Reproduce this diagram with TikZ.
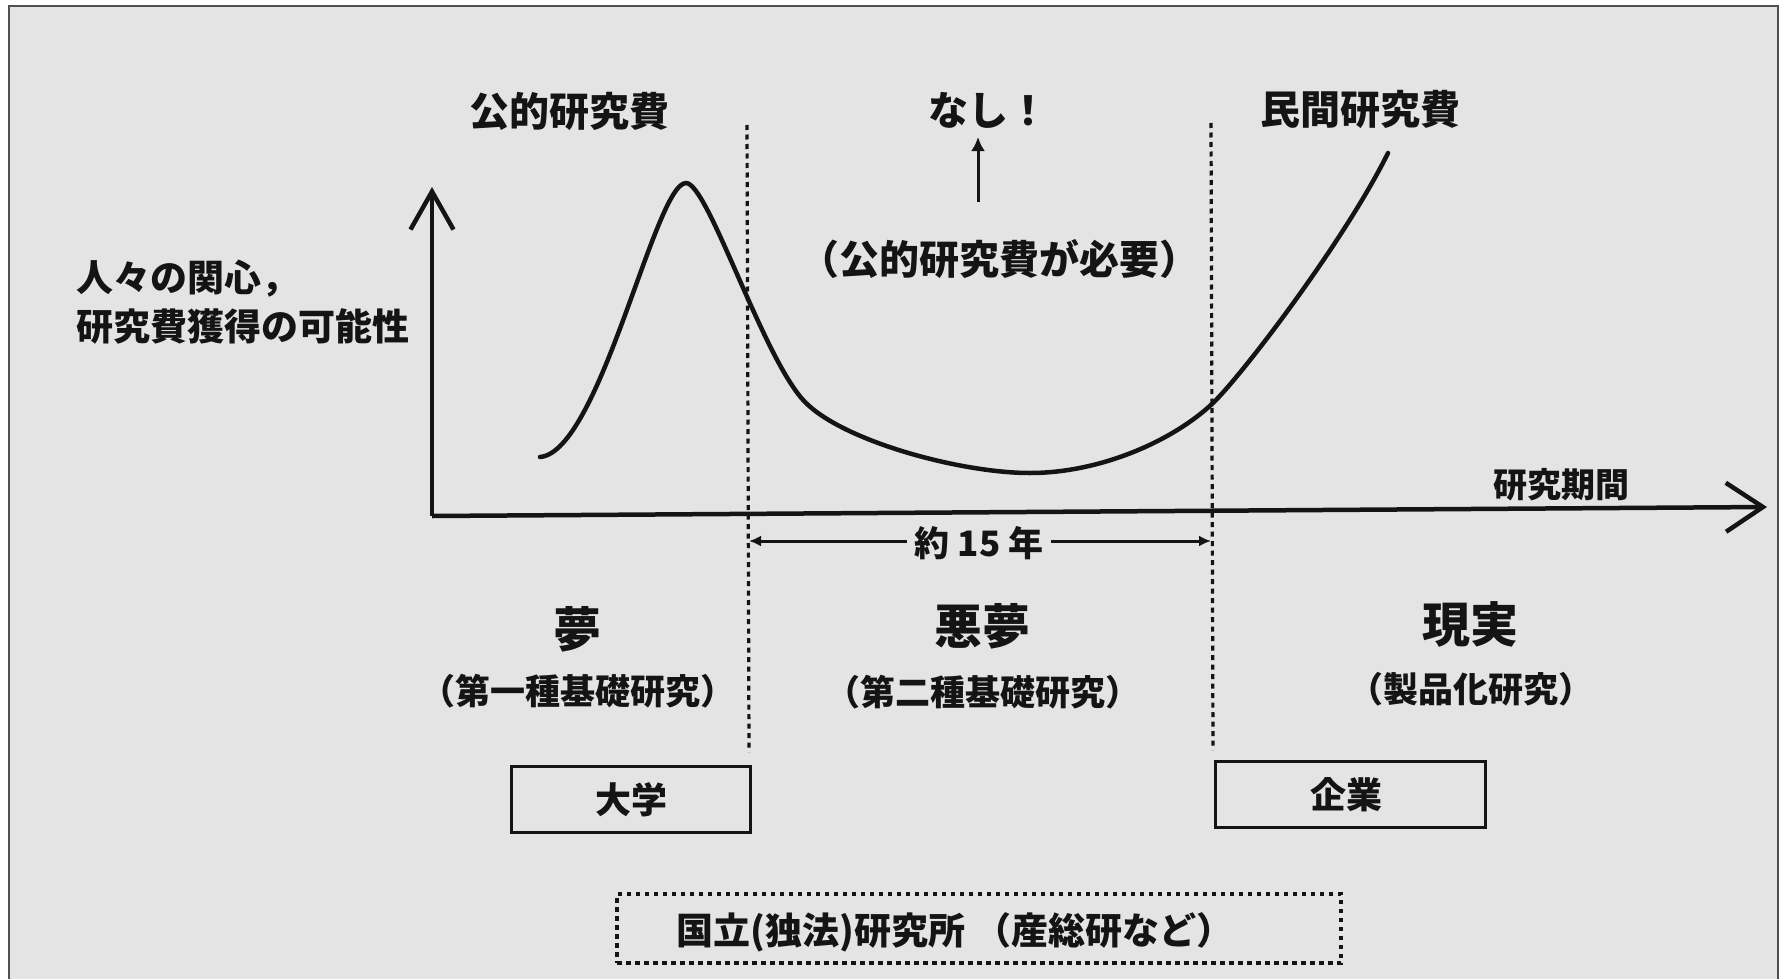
\documentclass[tikz,border=0pt]{standalone}
\usepackage{fontspec}
\setmainfont{Noto Sans CJK JP}
\usetikzlibrary{arrows.meta}
\definecolor{bg}{HTML}{E4E4E4}
\definecolor{ink}{HTML}{141414}
\definecolor{framec}{HTML}{505050}
\tikzset{
  txt/.style={inner sep=0pt, text=ink, font=\bfseries\fontsize{#1}{#1}\selectfont},
  axisline/.style={draw=ink, line width=4.5pt},
  curveline/.style={draw=ink, line width=4.5pt, line cap=round, line join=round},
  sepline/.style={draw=ink, line width=3.2pt, dash pattern=on 5pt off 4.5pt},
  thinarrow/.style={draw=ink, line width=3pt},
  boxnode/.style={draw=ink, line width=3pt, inner sep=0pt},
  dotboxnode/.style={draw=ink, line width=4.5pt, dash pattern=on 4.5pt off 4.5pt, inner sep=0pt}
}
\begin{document}
\begin{tikzpicture}[x=1pt, y=-1pt]
\useasboundingbox (0,0) rectangle (1779,979);
% background and frame
\fill[white] (0,0) rectangle (1779,979);
\fill[bg] (8,6) rectangle (1779,979);
\draw[framec, line width=2pt] (8.5,979) -- (8.5,6.5) -- (1778,6.5) -- (1778,979);

% axes
\coordinate (O) at (432,516);
\coordinate (ytip) at (432,187);
\coordinate (xtip) at (1767,507);
\draw[axisline, -{Straight Barb[length=38pt, width=43pt, line width=4.5pt]}] (O) -- (ytip);
\draw[axisline, -{Straight Barb[length=37pt, width=49pt, line width=4.5pt]}] (O) -- (xtip);

% separators
\coordinate (s1t) at (747,125);
\coordinate (s1b) at (749,752);
\coordinate (s2t) at (1211,123);
\coordinate (s2b) at (1213,750);
\draw[sepline] (s1t) -- (s1b);
\draw[sepline] (s2t) -- (s2b);

% curve
\coordinate (c0) at (540,457);
\coordinate (cpeak) at (686,183);
\coordinate (cbend) at (805,402);
\coordinate (cmin) at (1030,473);
\coordinate (cmid) at (1213,403);
\coordinate (cend) at (1388,153);
\draw[curveline] (c0)
  .. controls (600,452) and (655,183) .. (cpeak)
  .. controls (708,183) and (763,359) .. (cbend)
  .. controls (843,441) and (960,473) .. (cmin)
  .. controls (1100,473) and (1173,441) .. (cmid)
  .. controls (1243,374) and (1345,240) .. (cend);

% top labels
\node[txt=40] (pub) at (569,111) {公的研究費};
\node[txt=40] (nashi) at (988,110) {なし！};
\node[txt=40] (priv) at (1360,109) {民間研究費};
\node[txt=40] (need) at (999,259) {（公的研究費が必要）};
\coordinate (upA) at (978,202);
\coordinate (upB) at (978,137);
\draw[thinarrow, -{Latex[length=14pt, width=14pt]}] (upA) -- (upB);

% axis labels
\node[txt=37, anchor=west] (ylabA) at (76,279) {人々の関心，};
\node[txt=37, anchor=west] (ylabB) at (76,326) {研究費獲得の可能性};
\node[txt=34] (xlab) at (1561,485) {研究期間};

% period arrow
\coordinate (yl) at (749,541);
\coordinate (yr) at (1211,541);
\draw[thinarrow, {Latex[length=12pt, width=11pt]}-{Latex[length=12pt, width=11pt]}] (yl) -- (yr);
\node[txt=35, fill=bg, inner xsep=8pt, inner ysep=2pt] (yrs) at (979,543) {約 15 年};

% phase labels
\node[txt=48] (yume) at (577,629) {夢};
\node[txt=48] (akumu) at (982,626) {悪夢};
\node[txt=48] (genjitsu) at (1470,624) {現実};
\node[txt=35] (k1) at (578,691) {（第一種基礎研究）};
\node[txt=35] (k2) at (983,692) {（第二種基礎研究）};
\node[txt=35] (k3) at (1471,689) {（製品化研究）};

% boxes
\node[boxnode, minimum width=239pt, minimum height=66pt] (unibox) at (630.5,799) {};
\node[txt=36] (uni) at (631,800) {大学};
\node[boxnode, minimum width=270pt, minimum height=66pt] (corpbox) at (1350,794) {};
\node[txt=36] (corp) at (1346,795) {企業};
\node[dotboxnode, minimum width=724pt, minimum height=69pt] (labbox) at (979,928.5) {};
\node[txt=37] (lab) at (955,932) {国立(独法)研究所 （産総研など）};
\end{tikzpicture}
\end{document}
